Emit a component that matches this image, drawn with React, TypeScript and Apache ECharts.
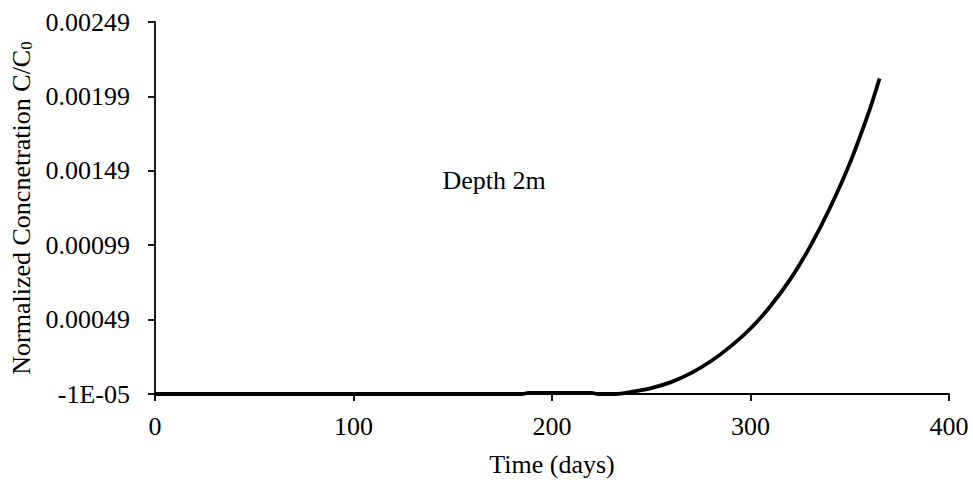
import React, { useEffect, useRef } from "react";
import * as echarts from "echarts";

const days = [0, 50, 100, 150, 185, 188, 220, 223, 232, 240, 250, 260, 270, 280, 290, 300, 310, 320, 330, 340, 350, 360, 365];
const conc = [
  -0.00001, -0.00001, -0.00001, -0.00001, -0.00001, -0.000003, -0.000003, -0.00001, -0.00001,
  0.000004, 0.00003, 0.00007, 0.00013, 0.00021, 0.00031, 0.00043, 0.00058, 0.00076, 0.00098,
  0.00124, 0.00154, 0.0019, 0.00211,
];
const yTickLabels = ["-1E-05", "0.00049", "0.00099", "0.00149", "0.00199", "0.00249"];
const xTickLabels = ["0", "100", "200", "300", "400"];
const annotation = "Depth 2m";

const Y_MIN = -0.00001;
const Y_MAX = 0.00249;
const Y_INT = 0.0005;

export default function App() {
  const ref = useRef<HTMLDivElement>(null);
  useEffect(() => {
    if (!ref.current) return;
    const chart = echarts.init(ref.current, null, { renderer: "svg" });
    const font = "'Liberation Serif', 'Times New Roman', serif";
    chart.setOption({
      animation: false,
      backgroundColor: "#fff",
      textStyle: { fontFamily: font },
      grid: { left: 155, right: 24, top: 22, bottom: 85, containLabel: false },
      xAxis: {
        type: "value",
        min: 0,
        max: 400,
        interval: 100,
        name: "Time (days)",
        nameLocation: "middle",
        nameGap: 57,
        nameTextStyle: { fontFamily: font, fontSize: 26, color: "#000" },
        axisLine: { show: true, onZero: false, lineStyle: { color: "#000", width: 1.8 } },
        axisTick: { show: true, inside: false, length: 7, lineStyle: { color: "#000", width: 1.8 } },
        axisLabel: {
          margin: 19,
          fontFamily: font,
          fontSize: 26,
          color: "#000",
          formatter: (v: number) => xTickLabels[Math.round(v / 100)] ?? "",
        },
        splitLine: { show: false },
      },
      yAxis: {
        type: "value",
        min: Y_MIN,
        max: Y_MAX,
        interval: Y_INT,
        name: "Normalized Concnetration C/C{sub|0}",
        nameLocation: "middle",
        nameGap: 118,
        nameRotate: 90,
        nameTextStyle: {
          fontFamily: font,
          fontSize: 26,
          color: "#000",
          rich: {
            sub: { fontFamily: font, fontSize: 17, color: "#000", verticalAlign: "bottom", padding: [10, 0, 0, 0] },
          },
        },
        axisLine: { show: true, onZero: false, lineStyle: { color: "#000", width: 1.8 } },
        axisTick: { show: true, inside: false, length: 7, lineStyle: { color: "#000", width: 1.8 } },
        axisLabel: {
          margin: 25,
          fontFamily: font,
          fontSize: 26,
          color: "#000",
          formatter: (v: number) => yTickLabels[Math.round((v - Y_MIN) / Y_INT)] ?? "",
        },
        splitLine: { show: false },
      },
      graphic: [
        {
          type: "text",
          x: 494,
          y: 180,
          style: {
            text: annotation,
            fontFamily: font,
            fontSize: 26,
            fill: "#000",
            align: "center",
            verticalAlign: "middle",
          },
        },
      ],
      series: [
        {
          type: "line",
          data: days.map((d, i) => [d, conc[i]]),
          showSymbol: false,
          smooth: 0.3,
          lineStyle: { color: "#000", width: 3.8 },
          clip: false,
        },
      ],
    });
    return () => chart.dispose();
  }, []);
  return <div ref={ref} style={{ position: "absolute", left: 0, top: 0, width: 973, height: 482 }} />;
}
